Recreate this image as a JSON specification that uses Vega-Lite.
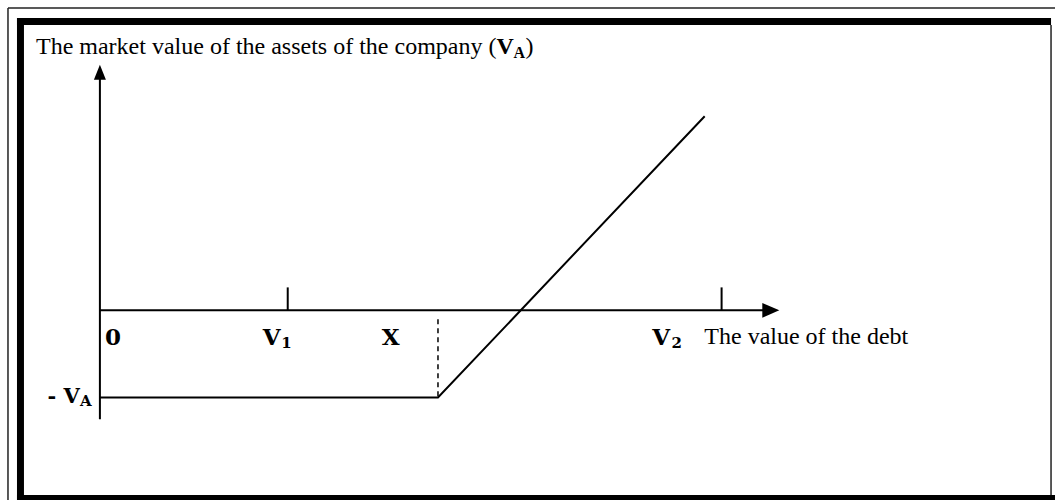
{
  "$schema": "https://vega.github.io/schema/vega-lite/v6.json",
  "autosize": {"type": "fit", "contains": "padding"},
  "width": 1056,
  "height": 501,
  "padding": 0,
  "background": "white",
  "config": {"view": {"stroke": null}},
  "datasets": {
    "bands": [
      {"x": -4.415, "x2": -4.043, "y": 14.761, "y2": -9.572},
      {"x": -4.415, "x2": 50.64, "y": 14.761, "y2": 14.408},
      {"x": -4.415, "x2": 50.851, "y": -9.32, "y2": -9.572}
    ],
    "thin": [
      {"x": -4.894, "x2": -4.894, "y": 15.264, "y2": -9.572},
      {"x": -4.894, "x2": 50.851, "y": 15.264, "y2": 15.264},
      {"x": 50.64, "x2": 50.64, "y": 14.408, "y2": -9.32}
    ],
    "axes": [
      {"x": 0, "x2": 0, "y": -5.49, "y2": 11.74},
      {"x": 0, "x2": 35.37, "y": 0, "y2": 0},
      {"x": 10, "x2": 10, "y": 0, "y2": 1.16},
      {"x": 33.1, "x2": 33.1, "y": 0, "y2": 1.16}
    ],
    "dash": [{"x": 18, "x2": 18, "y": -0.45, "y2": -4.4}],
    "payoff": [
      {"x": 0, "y": -4.4},
      {"x": 18, "y": -4.4},
      {"x": 32.2, "y": 9.8}
    ],
    "arrowUp": [{"x": 0, "y": 12.015}],
    "arrowRight": [{"x": 35.72, "y": 0}],
    "boldLabels": [
      {"x": 0.266, "y": -1.76, "t": "0"},
      {"x": 8.67, "y": -1.76, "t": "V"},
      {"x": 15.0, "y": -1.76, "t": "X"},
      {"x": 29.41, "y": -1.76, "t": "V"}
    ],
    "negLabel": [{"x": -1.064, "y": -4.685, "t": "- V"}],
    "subs": [
      {"x": 9.66, "y": -1.91, "t": "1"},
      {"x": 30.43, "y": -1.91, "t": "2"},
      {"x": -1.064, "y": -4.836, "t": "A"}
    ],
    "plainText": [
      {"x": -3.404, "y": 12.947, "t": "The market value of the assets of the company ("},
      {"x": 22.66, "y": 12.947, "t": ")"},
      {"x": 32.181, "y": -1.713, "t": "The value of the debt"}
    ],
    "titleV": [{"x": 21.12, "y": 12.947, "t": "V"}],
    "titleA": [{"x": 22.02, "y": 12.75, "t": "A"}]
  },
  "encoding": {
    "x": {"field": "x", "type": "quantitative", "scale": {"domain": [-5.3191, 50.8511], "nice": false, "zero": false}, "axis": null},
    "y": {"field": "y", "type": "quantitative", "scale": {"domain": [-9.572, 15.667], "nice": false, "zero": false}, "axis": null}
  },
  "layer": [
    {
      "data": {"name": "bands"},
      "mark": {"type": "rect", "color": "#000000"},
      "encoding": {"x2": {"field": "x2"}, "y2": {"field": "y2"}}
    },
    {
      "data": {"name": "thin"},
      "mark": {"type": "rule", "color": "#222222", "strokeWidth": 1.5},
      "encoding": {"x2": {"field": "x2"}, "y2": {"field": "y2"}}
    },
    {
      "data": {"name": "axes"},
      "mark": {"type": "rule", "color": "#000000", "strokeWidth": 2},
      "encoding": {"x2": {"field": "x2"}, "y2": {"field": "y2"}}
    },
    {
      "data": {"name": "dash"},
      "mark": {"type": "rule", "color": "#000000", "strokeWidth": 1.5, "strokeDash": [5, 4]},
      "encoding": {"x2": {"field": "x2"}, "y2": {"field": "y2"}}
    },
    {
      "data": {"name": "payoff"},
      "mark": {"type": "line", "color": "#000000", "strokeWidth": 2},
      "encoding": {}
    },
    {
      "data": {"name": "arrowUp"},
      "mark": {"type": "point", "shape": "M0,-1L0.8,1L-0.8,1Z", "size": 225, "filled": true, "color": "#000000", "opacity": 1}
    },
    {
      "data": {"name": "arrowRight"},
      "mark": {"type": "point", "shape": "M1,0L-1,-0.88L-1,0.88Z", "size": 289, "filled": true, "color": "#000000", "opacity": 1}
    },
    {
      "data": {"name": "boldLabels"},
      "mark": {"type": "text", "font": "DejaVu Serif", "fontWeight": "bold", "fontSize": 23, "align": "left", "baseline": "alphabetic", "color": "#000000"},
      "encoding": {"text": {"field": "t"}}
    },
    {
      "data": {"name": "negLabel"},
      "mark": {"type": "text", "font": "DejaVu Serif", "fontWeight": "bold", "fontSize": 21, "align": "right", "baseline": "alphabetic", "color": "#000000"},
      "encoding": {"text": {"field": "t"}}
    },
    {
      "data": {"name": "subs"},
      "mark": {"type": "text", "font": "DejaVu Serif", "fontWeight": "bold", "fontSize": 15, "align": "left", "baseline": "alphabetic", "color": "#000000"},
      "encoding": {"text": {"field": "t"}}
    },
    {
      "data": {"name": "plainText"},
      "mark": {"type": "text", "font": "Liberation Serif", "fontSize": 24, "align": "left", "baseline": "alphabetic", "color": "#000000"},
      "encoding": {"text": {"field": "t"}}
    },
    {
      "data": {"name": "titleV"},
      "mark": {"type": "text", "font": "Liberation Serif", "fontWeight": "bold", "fontSize": 24, "align": "left", "baseline": "alphabetic", "color": "#000000"},
      "encoding": {"text": {"field": "t"}}
    },
    {
      "data": {"name": "titleA"},
      "mark": {"type": "text", "font": "Liberation Serif", "fontWeight": "bold", "fontSize": 16, "align": "left", "baseline": "alphabetic", "color": "#000000"},
      "encoding": {"text": {"field": "t"}}
    }
  ]
}
